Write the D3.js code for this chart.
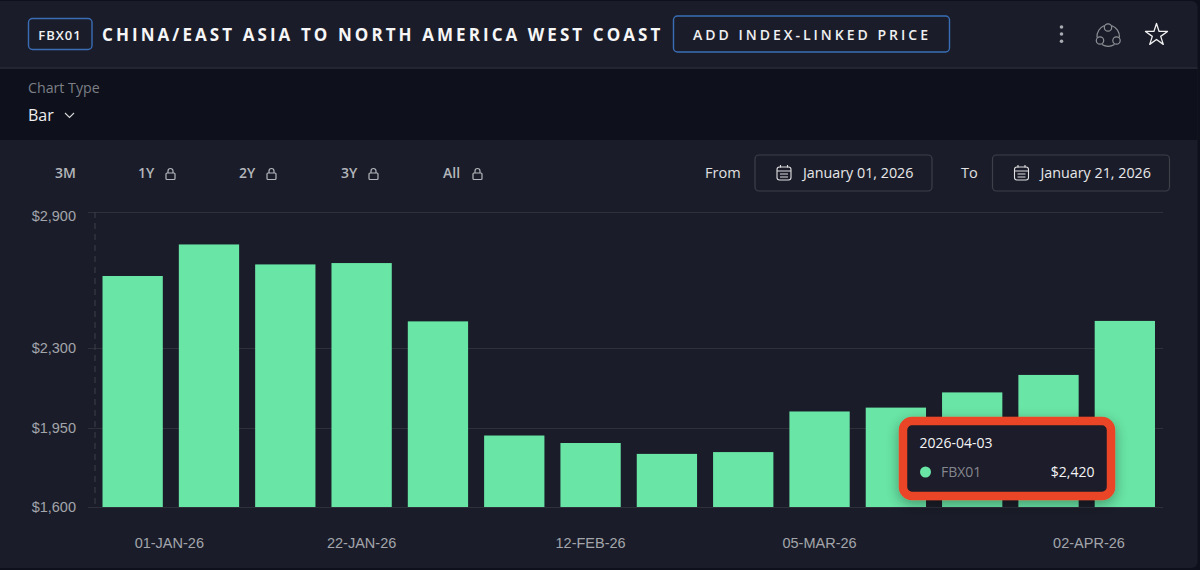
<!DOCTYPE html>
<html lang="en">
  <head>
    <meta charset="utf-8">
    <title>FBX01</title>
    <style type="text/css">
    html, body { margin: 0; padding: 0; background: #0e111b; overflow: hidden; }
    svg { display: block; }
    text { font-family: "Open Sans", "Noto Sans", sans-serif; }
    .axis text { font-family: "Liberation Sans", Arial, sans-serif; font-size: 14.5px; fill: #a3a5ab; }
    .grid line { stroke: #2e303a; stroke-width: 1; }
    .range { font-size: 14px; font-weight: 600; fill: #b4b6bb; }
    .icon { fill: none; stroke: #b4b6bb; stroke-width: 1.2; }
    .date-box { fill: none; stroke: #3d3f49; stroke-width: 1.2; }
    .date-text { font-size: 14.3px; fill: #e8e8ea; }
    </style>
  </head>
  <body>
    <script src="https://d3js.org/d3.v7.min.js"></script>
    <script type="text/javascript">

    // weekly FBX01 values
    var dates = ["01-JAN-26", "08-JAN-26", "15-JAN-26", "22-JAN-26", "29-JAN-26", "05-FEB-26", "12-FEB-26",
                 "19-FEB-26", "26-FEB-26", "05-MAR-26", "12-MAR-26", "19-MAR-26", "26-MAR-26", "02-APR-26"];
    var prices = [2618, 2757, 2669, 2675, 2418, 1915, 1882, 1834, 1842, 2021, 2038, 2105, 2182, 2420];
    var yTicks = [1600, 1950, 2300, 2900];
    var xLabels = ["01-JAN-26", "22-JAN-26", "12-FEB-26", "05-MAR-26", "02-APR-26"];
    var rangeButtons = ["3M", "1Y", "2Y", "3Y", "All"];

    var width = 1200,
    height = 570,
    barColor = "#69e6a6";

    var svg = d3.select("body")
        .append("svg")
        .attr("width", width)
        .attr("height", height);

    // 背景
    svg.append("rect").attr("width", width).attr("height", height).attr("fill", "#0e111b");
    svg.append("rect").attr("x", -8).attr("y", 1).attr("width", 1205.5).attr("height", 567).attr("rx", 6).attr("fill", "#1a1d29");
    svg.append("rect").attr("y", 69).attr("width", 1197.5).attr("height", 71).attr("fill", "#0e111b");
    svg.append("line").attr("x1", 0).attr("x2", 1197.5).attr("y1", 68).attr("y2", 68).attr("stroke", "#2c2f3a");

    // header
    svg.append("rect").attr("x", 28.5).attr("y", 18.5).attr("width", 63.5).attr("height", 31).attr("rx", 4)
      .attr("fill", "none").attr("stroke", "#3a6db5").attr("stroke-width", 1.4);
    svg.append("text").attr("x", 60).attr("y", 40).attr("text-anchor", "middle")
      .attr("font-size", 13).attr("font-weight", 600).attr("letter-spacing", 1).attr("fill", "#f2f2f3")
      .text("FBX01");
    svg.append("text").attr("x", 102).attr("y", 41)
      .attr("font-size", 17).attr("font-weight", 700).attr("letter-spacing", 3.07).attr("fill", "#f6f6f7")
      .text("CHINA/EAST ASIA TO NORTH AMERICA WEST COAST");
    svg.append("rect").attr("x", 673.5).attr("y", 16).attr("width", 276).attr("height", 36).attr("rx", 4)
      .attr("fill", "none").attr("stroke", "#3a6db5").attr("stroke-width", 1.4);
    svg.append("text").attr("x", 693).attr("y", 40)
      .attr("font-size", 14).attr("font-weight", 600).attr("letter-spacing", 3.0).attr("fill", "#f0f0f1")
      .text("ADD INDEX-LINKED PRICE");

    // 右上のアイコン
    [27, 34, 41.3].forEach(function(cy) {
      svg.append("circle").attr("cx", 1061.5).attr("cy", cy).attr("r", 1.8).attr("fill", "#a9abb1");
    });
    var share = svg.append("g").attr("fill", "none").attr("stroke", "#8f9197").attr("stroke-width", 1.2);
    share.append("circle").attr("cx", 1108).attr("cy", 27.5).attr("r", 3.7);
    share.append("circle").attr("cx", 1100).attr("cy", 40.5).attr("r", 3.7);
    share.append("circle").attr("cx", 1116.5).attr("cy", 40.5).attr("r", 3.7);
    share.append("path").attr("d", "M1104.5 25.5 A12 12 0 0 0 1097 37.5 M1111.5 25.5 A12 12 0 0 1 1119.5 37.5 M1102 44.5 A12 12 0 0 0 1114.5 44.5");
    svg.append("path")
      .attr("d", d3.symbol().type(d3.symbolStar).size(150)())
      .attr("transform", "translate(1156.5,35)")
      .attr("fill", "none").attr("stroke", "#f0f0f1").attr("stroke-width", 1.3).attr("stroke-linejoin", "round");

    // chart type
    svg.append("text").attr("x", 28).attr("y", 93).attr("font-size", 14.2).attr("fill", "#7d7f87").text("Chart Type");
    svg.append("text").attr("x", 28).attr("y", 121).attr("font-size", 16).attr("fill", "#eeeeef").text("Bar");
    svg.append("path").attr("d", "M65 113 L69.5 117.5 L74 113").attr("fill", "none").attr("stroke", "#d8d8da").attr("stroke-width", 1.1);

    // range buttons
    var rangeX = [55, 138, 239, 341, 443];
    rangeButtons.forEach(function(label, i) {
      svg.append("text").attr("class", "range").attr("x", rangeX[i]).attr("y", 178).text(label);
      if (i > 0) {
        var lx = rangeX[i] + (label === "All" ? 30 : 28);
        svg.append("rect").attr("class", "icon").attr("x", lx).attr("y", 173).attr("width", 9).attr("height", 6.5).attr("rx", 1);
        svg.append("path").attr("class", "icon").attr("d", "M" + (lx + 2) + " 173 v-2 a2.5 2.5 0 0 1 5 0 v2");
      }
    });

    // from / to
    function dateBox(label, labelX, boxX, boxW, value) {
      svg.append("text").attr("x", labelX).attr("y", 178).attr("font-size", 14.5).attr("fill", "#e0e0e2").text(label);
      svg.append("rect").attr("class", "date-box").attr("x", boxX).attr("y", 155).attr("width", boxW).attr("height", 36).attr("rx", 4);
      var ix = boxX + 22;
      svg.append("rect").attr("x", ix).attr("y", 167).attr("width", 14).attr("height", 13).attr("rx", 2.5)
        .attr("fill", "none").attr("stroke", "#e0e0e2").attr("stroke-width", 1.1);
      svg.append("path").attr("d", "M" + ix + " 171 h14 M" + (ix + 3.5) + " 165 v2.5 M" + (ix + 10.5) + " 165 v2.5 M" + (ix + 3) + " 174 h8 M" + (ix + 3) + " 177 h8")
        .attr("fill", "none").attr("stroke", "#e0e0e2").attr("stroke-width", 1.1);
      svg.append("text").attr("class", "date-text").attr("x", boxX + 48).attr("y", 178).text(value);
    }
    dateBox("From", 705, 755, 177, "January 01, 2026");
    dateBox("To", 961, 992.5, 177, "January 21, 2026");

    // scales
    var x = d3.scaleBand()
        .domain(dates)
        .range([94.5, 1163])
        .paddingInner(0.21)
        .paddingOuter(0.105);

    var y = d3.scaleLinear()
        .domain([1600, 2900])
        .range([507, 212]);

    // grid
    var grid = svg.append("g").attr("class", "grid");
    grid.selectAll("line")
      .data(yTicks)
      .enter()
      .append("line")
      .attr("x1", 88)
      .attr("x2", 1163)
      .attr("y1", function(d) { return Math.round(y(d)) + 0.5; })
      .attr("y2", function(d) { return Math.round(y(d)) + 0.5; });
    svg.append("line").attr("x1", 95).attr("x2", 95).attr("y1", 212).attr("y2", 507)
      .attr("stroke", "#3d3f49").attr("stroke-dasharray", "6 5");

    // bars
    svg.selectAll(".bar")
      .data(prices)
      .enter()
      .append("rect")
      .attr("class", "bar")
      .attr("x", function(d, i) { return x(dates[i]); })
      .attr("width", x.bandwidth())
      .attr("y", function(d) { return y(d); })
      .attr("height", function(d) { return y(1600) - y(d); })
      .attr("fill", barColor);

    // axes
    var yAxis = d3.axisLeft(y)
      .tickValues(yTicks)
      .tickSize(0)
      .tickPadding(0)
      .tickFormat(function(d) { return "$" + d3.format(",")(d); });
    var yG = svg.append("g").attr("class", "axis").attr("transform", "translate(76,0)").call(yAxis);
    yG.select(".domain").remove();
    // 一番上のラベルだけ少し下にずれている
    yG.selectAll("text").filter(function(d) { return d === yTicks[yTicks.length - 1]; }).attr("y", 4);

    var xAxis = d3.axisBottom(x)
      .tickValues(xLabels)
      .tickSize(0)
      .tickPadding(0);
    var xG = svg.append("g").attr("class", "axis").attr("transform", "translate(0,548)").call(xAxis);
    xG.select(".domain").remove();
    xG.selectAll("text").attr("y", 0).attr("dy", 0);
    // 両端のラベルは棒の中心から内側に寄せる
    xG.selectAll("text").filter(function(d) { return d === xLabels[0]; }).attr("text-anchor", "start").attr("x", 2);
    xG.selectAll("text").filter(function(d) { return d === xLabels[xLabels.length - 1]; }).attr("text-anchor", "end");

    // tooltip
    var defs = svg.append("defs");
    var blur = defs.append("filter").attr("id", "tipShadow").attr("x", "-20%").attr("y", "-30%").attr("width", "140%").attr("height", "160%");
    blur.append("feDropShadow").attr("dx", 0).attr("dy", 4).attr("stdDeviation", 7).attr("flood-color", "#000").attr("flood-opacity", 0.35);

    var tip = svg.append("g");
    tip.append("rect").attr("x", 903).attr("y", 421).attr("width", 208).attr("height", 75).attr("rx", 9)
      .attr("fill", "#1a1d29").attr("stroke", "#e94425").attr("stroke-width", 8.5).attr("filter", "url(#tipShadow)");
    tip.append("text").attr("x", 919.5).attr("y", 448).attr("font-size", 14).attr("fill", "#f4f4f5").text("2026-04-03");
    tip.append("circle").attr("cx", 925.5).attr("cy", 472).attr("r", 5.5).attr("fill", barColor);
    tip.append("text").attr("x", 941).attr("y", 477).attr("font-size", 14).attr("fill", "#85878e").text("FBX01");
    tip.append("text").attr("x", 1094.5).attr("y", 477).attr("text-anchor", "end").attr("font-size", 14).attr("font-weight", 500).attr("fill", "#f4f4f5")
      .text("$" + d3.format(",")(prices[prices.length - 1]));

    </script>
  </body>
</html>
